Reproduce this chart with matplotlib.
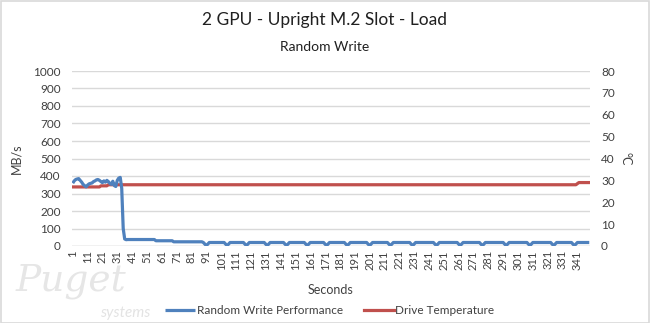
import matplotlib
matplotlib.use("Agg")
import matplotlib.pyplot as plt
from matplotlib.patches import Rectangle
import numpy as np

# ---------------- data ----------------
n_seconds = 349
seconds = list(range(1, n_seconds + 1))

# first 37 seconds of write performance (MB/s)
perf_start = [359, 372, 380, 383, 385, 375, 365, 352, 345, 338,
              348, 355, 358, 360, 368, 372, 378, 380, 375, 368,
              362, 372, 365, 375, 368, 358, 352, 370, 345, 340,
              375, 388, 392, 330, 100, 40, 36]
# later plateaus: (first second, last second, MB/s)
perf_plateaus = [(38, 56, 37), (57, 68, 30), (69, 88, 24), (89, 349, 20)]
# short periodic drops (second at which the drop bottoms out)
perf_dip_seconds = [91, 105, 118, 132, 145, 159, 172, 186, 201, 215,
                    230, 246, 262, 277, 293, 309, 325, 339]
perf_dip_values = [11, 2, 11]   # value one second before, at, and after a drop

# drive temperature (°C): (first second, last second, value)
temp_segments = [(1, 19, 27), (20, 24, 27.5), (25, 340, 28), (341, 341, 28.5), (342, 349, 29)]

x_tick_labels = [str(s) for s in range(1, n_seconds + 1, 10)]
left_ticks = [0, 100, 200, 300, 400, 500, 600, 700, 800, 900, 1000]
right_ticks = [0, 10, 20, 30, 40, 50, 60, 70, 80]

title = "2 GPU - Upright M.2 Slot - Load"
subtitle = "Random Write"
series_names = ["Random Write Performance", "Drive Temperature"]

# ---------------- assemble series ----------------
perf = list(perf_start)
for a, b, v in perf_plateaus:
    perf += [v] * (b - a + 1)
for d in perf_dip_seconds:
    for off, v in zip((-1, 0, 1), perf_dip_values):
        perf[d - 1 + off] = v

temp = []
for a, b, v in temp_segments:
    temp += [v] * (b - a + 1)

# ---------------- plot ----------------
FONT = "Lato"
plt.rcParams["font.family"] = [FONT, "DejaVu Sans"]
W, H = 650, 323
fig = plt.figure(figsize=(W / 100, H / 100), dpi=100)

# chart border
fig.patches.append(Rectangle((0.5 / W, 0.5 / H), 1 - 1.5 / W, 1 - 1.5 / H,
                             transform=fig.transFigure, fill=False,
                             edgecolor="#D9D9D9", linewidth=1.2))

# watermark
fig.text(16 / W, 1 - 281 / H, "Puget", fontsize=27, color="#E6E6E6",
         fontstyle="italic", family="DejaVu Serif", ha="left", va="center")
fig.text(100 / W, 1 - 313 / H, "systems", fontsize=11, color="#E3E3E3",
         fontstyle="italic", ha="left", va="center")

ax = fig.add_axes([72 / W, 1 - 246 / H, (590 - 72) / W, (246 - 71) / H])
ax2 = ax.twinx()

ax.set_zorder(ax2.get_zorder() + 1)
ax.patch.set_visible(False)

l1, = ax.plot(seconds, perf, color="#4F81BD", lw=2.3, solid_joinstyle="round",
              solid_capstyle="butt", label=series_names[0])
l2, = ax2.plot(seconds, temp, color="#C0504D", lw=2.3, solid_joinstyle="round",
               label=series_names[1])

ax.set_xlim(0.5, n_seconds + 0.5)
ax.set_ylim(0, 1000)
ax2.set_ylim(0, 80)
ax.set_yticks(left_ticks)
ax2.set_yticks(right_ticks)
ax.set_xticks(list(range(1, n_seconds + 1, 10)))
ax.set_xticklabels(x_tick_labels, rotation=90, fontsize=8, color="#404040")
ax.tick_params(axis="y", labelsize=8.5, colors="#404040", length=0, pad=8)
ax2.tick_params(axis="y", labelsize=8.5, colors="#404040", length=0, pad=8)
ax.tick_params(axis="x", length=0, pad=3)

ax.grid(axis="y", color="#D9D9D9", lw=1)
ax.set_axisbelow(True)
for a in (ax, ax2):
    for s in a.spines.values():
        s.set_visible(False)
ax.axhline(0, color="#D9D9D9", lw=1, zorder=0)

ax.set_ylabel("MB/s", fontsize=9, color="#404040", labelpad=8)
ax2.set_ylabel("°C", fontsize=9, color="#404040", rotation=270, labelpad=12)

fig.text(0.5, 1 - 20 / H, title, fontsize=12.5, color="#202020", ha="center", va="center")
fig.text(0.5, 1 - 47 / H, subtitle, fontsize=10, color="#202020", ha="center", va="center")
fig.text(331 / W, 1 - 290 / H, "Seconds", fontsize=9, color="#404040", ha="center", va="center")

fig.legend(handles=[l1, l2], labels=series_names, loc="center",
           bbox_to_anchor=(330 / W, 1 - 311 / H), ncol=2, frameon=False,
           fontsize=8.5, handlelength=2.5, handletextpad=0.15, columnspacing=1.8,
           labelcolor="#404040")

fig.savefig("out.png", dpi=100)
